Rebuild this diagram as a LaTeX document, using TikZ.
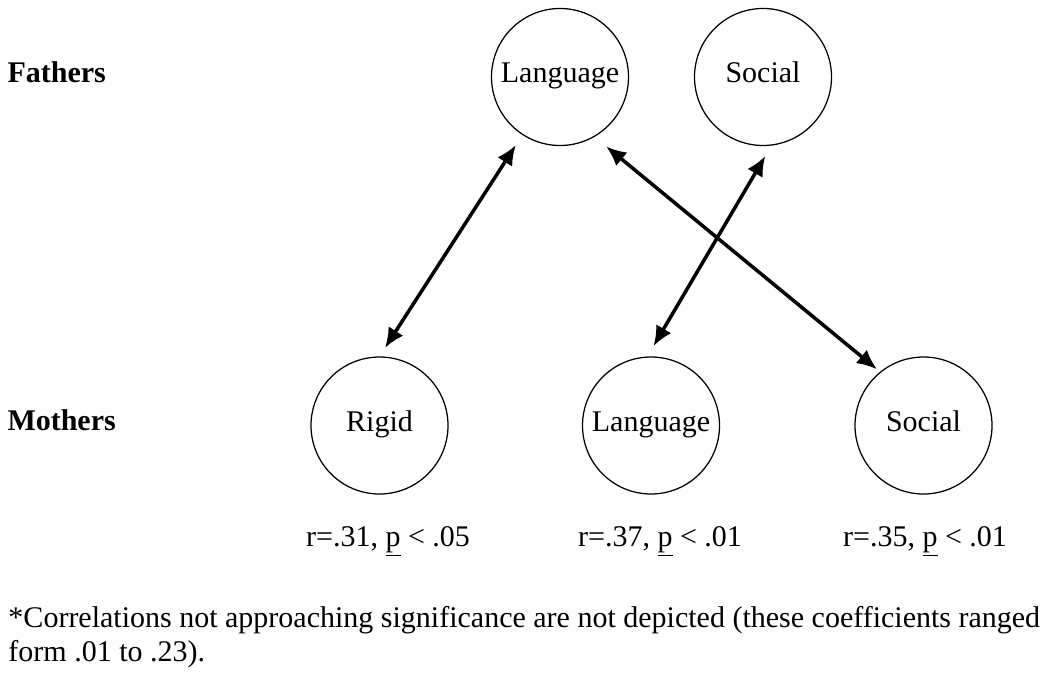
\documentclass[tikz,border=0pt]{standalone}
\usepackage{fontspec}
\setmainfont{Liberation Serif}
\usetikzlibrary{arrows.meta}

\begin{document}
\begin{tikzpicture}[x=0.4pt, y=-0.4pt, every node/.style={font=\fontsize{12}{14}\selectfont, inner sep=0pt},
    var/.style={circle, draw, line width=0.5pt, minimum size=54.8pt, text height=0.7em, text depth=0.22em},
    corr/.style={line width=1.4pt, {Latex[length=8pt,width=7pt]}-{Latex[length=8pt,width=7pt]}}]
            \useasboundingbox (0,0) rectangle (1050,678);
            \node[anchor=base west, font=\fontsize{12}{14}\selectfont\bfseries] (fathers) at (7,83) {Fathers};
            \node[anchor=base west, font=\fontsize{12}{14}\selectfont\bfseries] (mothers) at (7,430) {Mothers};
            \node[var] (fLang) at (560,77) {Language};
            \node[var] (fSocial) at (763,77) {Social};
            \node[var] (mRigid) at (379.5,425.5) {Rigid};
            \node[var] (mLang) at (651,425.5) {Language};
            \node[var] (mSocial) at (923.5,425.5) {Social};
            \node[anchor=base] (rRigid) at (388,546) {r=.31, \underline{p} < .05};
            \node[anchor=base] (rLang) at (660,546) {r=.37, \underline{p} < .01};
            \node[anchor=base] (rSocial) at (925,546) {r=.35, \underline{p} < .01};
            \draw[corr, shorten <=4pt, shorten >=4.8pt] (mRigid.north) -- (fLang.237);
            \draw[corr, shorten <=6pt, shorten >=1.6pt] (fLang.300) -- (mSocial.129);
            \draw[corr, shorten <=4.8pt, shorten >=4.8pt] (fSocial.277) -- (mLang.93);
            \node[anchor=base west] (note1) at (8,627) {*Correlations not approaching significance are not depicted (these coefficients ranged};
            \node[anchor=base west] (note2) at (8,661) {form .01 to .23).};
        \end{tikzpicture}
\end{document}
